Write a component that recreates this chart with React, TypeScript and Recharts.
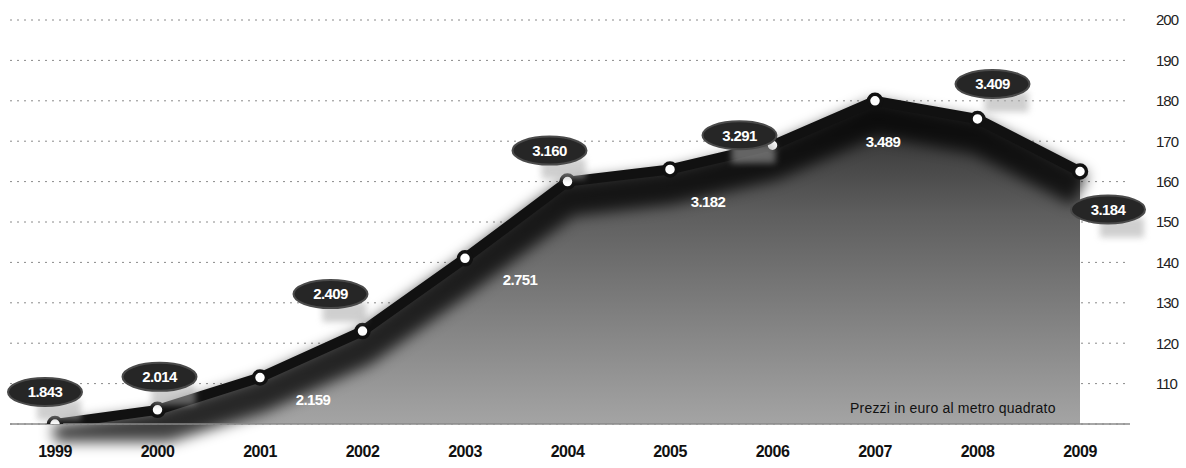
import {
  ComposedChart, Area, Line, XAxis, YAxis, CartesianGrid,
} from "recharts";

// anni e indice (1999 = 100)
const years = ["1999", "2000", "2001", "2002", "2003", "2004", "2005", "2006", "2007", "2008", "2009"];
const indexValues = [100, 103.5, 111.5, 123, 141, 160, 163, 169, 180, 175.5, 162.5];
// prezzi in euro al metro quadrato (etichette)
const prices = ["1.843", "2.014", "2.159", "2.409", "2.751", "3.160", "3.182", "3.291", "3.489", "3.409", "3.184"];
const yTicks = [110, 120, 130, 140, 150, 160, 170, 180, 190, 200];

// posizione delle etichette rispetto al punto: [dx, dy, ovale]
const LABEL_POS: [number, number, boolean][] = [
  [-10, -32, true],
  [2, -33, true],
  [53, 22, false],
  [-32, -37, true],
  [55, 21, false],
  [-18, -31, true],
  [38, 32, false],
  [-33, -10, true],
  [8, 41, false],
  [15, -35, true],
  [28, 38, true],
];

const data = years.map((y, i) => ({ year: y, idx: indexValues[i], price: prices[i] }));

const FONT = "'Liberation Sans', Arial, sans-serif";

const renderLabel = (props: any) => {
  const { x, y, index } = props;
  if (x == null || y == null) return null;
  const [dx, dy, oval] = LABEL_POS[index];
  const cx = x + dx;
  const cy = y + dy;
  return (
    <g key={`lbl-${index}`}>
      {oval && (
        <>
          <rect x={cx - 8} y={cy + 8} width={44} height={20} fill="#a8a8a8" opacity={0.55} filter="url(#soft)" />
          <ellipse cx={cx} cy={cy} rx={37} ry={14} fill="#262626" stroke="#4a4a4a" strokeWidth={2} />
        </>
      )}
      <text
        x={cx}
        y={cy}
        dy="0.36em"
        textAnchor="middle"
        fill="#fff"
        fontFamily={FONT}
        fontWeight="bold"
        fontSize={15}
        letterSpacing={-0.6}
      >
        {prices[index]}
      </text>
    </g>
  );
};

const Dot = (props: any) => {
  const { cx, cy, index } = props;
  if (cx == null || cy == null) return null;
  return <circle key={`d-${index}`} cx={cx} cy={cy} r={6.5} fill="#fff" stroke="#111" strokeWidth={3.5} />;
};

export default function App() {
  return (
    <div style={{ position: "absolute", left: 0, top: 0, width: 1186, height: 468, background: "#fff" }}>
      <style>{`.shadow-line { transform: translateY(18px); filter: blur(7px); }`}</style>
      <ComposedChart
        width={1186}
        height={468}
        data={data}
        margin={{ top: 20, right: 0, bottom: 0, left: 10 }}
      >
        <defs>
          <linearGradient id="areaGrad" x1="0" y1="0" x2="0" y2="1">
            <stop offset="0%" stopColor="#2a2a2a" />
            <stop offset="35%" stopColor="#5e5e5e" />
            <stop offset="100%" stopColor="#a4a4a4" />
          </linearGradient>
          <filter id="soft" x="-50%" y="-50%" width="200%" height="200%">
            <feGaussianBlur stdDeviation="3" />
          </filter>
        </defs>
        <CartesianGrid vertical={false} stroke="#8a8a8a" strokeDasharray="2 5" />
        <XAxis
          dataKey="year"
          scale="point"
          padding={{ left: 45, right: 50 }}
          height={44}
          tickSize={0}
          tickMargin={22}
          axisLine={{ stroke: "#8a8a8a", strokeWidth: 1.5 }}
          tick={{ fill: "#111", fontFamily: FONT, fontWeight: "bold", fontSize: 16, letterSpacing: -0.5 }}
        />
        <YAxis
          orientation="right"
          width={56}
          domain={[100, 200]}
          ticks={yTicks}
          allowDataOverflow
          axisLine={false}
          tickSize={0}
          tickMargin={26}
          tick={{ fill: "#222", fontFamily: FONT, fontSize: 15, letterSpacing: -1, textAnchor: "start" }}
        />
        <Area
          type="linear"
          dataKey="idx"
          stroke="none"
          fill="url(#areaGrad)"
          fillOpacity={1}
          isAnimationActive={false}
        />
        <Line
          type="linear"
          dataKey="idx"
          className="shadow-line"
          stroke="#000"
          strokeOpacity={0.75}
          strokeWidth={34}
          dot={false}
          activeDot={false}
          isAnimationActive={false}
        />
        <Line
          type="linear"
          dataKey="idx"
          stroke="#111"
          strokeWidth={10}
          strokeLinejoin="round"
          dot={<Dot />}
          activeDot={false}
          label={renderLabel}
          isAnimationActive={false}
        />
      </ComposedChart>
      <div
        style={{
          position: "absolute",
          left: 850,
          top: 400,
          fontFamily: FONT,
          fontSize: 14,
          letterSpacing: 0.2,
          color: "#111",
          whiteSpace: "nowrap",
        }}
      >
        Prezzi in euro al metro quadrato
      </div>
    </div>
  );
}
